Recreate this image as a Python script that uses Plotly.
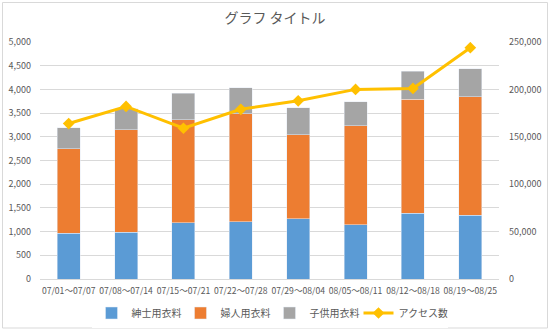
import plotly.graph_objects as go

# Weekly sales (stacked) and access count
weeks = ["07/01～07/07", "07/08～07/14", "07/15～07/21", "07/22～07/28",
         "07/29～08/04", "08/05～08/11", "08/12～08/18", "08/19～08/25"]
mens = [970, 990, 1190, 1210, 1270, 1140, 1390, 1340]
womens = [1780, 2160, 2170, 2280, 1770, 2090, 2400, 2510]
kids = [440, 440, 560, 540, 570, 510, 590, 590]
access = [164000, 182000, 159000, 179000, 188000, 200000, 201000, 244000]

W, H = 550, 331
ML, MR, MT, MB = 40, 51, 42, 52
PW, PH = W - ML - MR, H - MT - MB

FONT = "Noto Sans CJK JP, Open Sans, sans-serif"
TXT = "#595959"
GRID = "#D9D9D9"


def px_x(x):
    return (x - ML) / PW


def px_y(y):
    return (H - MB - y) / PH


fig = go.Figure()
fig.add_trace(go.Bar(x=weeks, y=mens, name="紳士用衣料", marker_color="#5B9BD5"))
fig.add_trace(go.Bar(x=weeks, y=womens, name="婦人用衣料", marker_color="#ED7D31"))
fig.add_trace(go.Bar(x=weeks, y=kids, name="子供用衣料", marker_color="#A5A5A5"))
fig.add_trace(go.Scatter(
    x=weeks, y=access, name="アクセス数", yaxis="y2", mode="lines+markers",
    line=dict(color="#FFC000", width=3),
    marker=dict(symbol="diamond", size=9, color="#FFC000"),
))

fig.update_layout(
    width=W, height=H,
    margin=dict(l=ML, r=MR, t=MT, b=MB, autoexpand=False),
    paper_bgcolor="white", plot_bgcolor="white",
    barmode="stack", bargap=0.6,
    font=dict(family=FONT, size=9, color=TXT),
    title=dict(text="グラフ タイトル", x=0.5, xanchor="center",
               y=1 - 18 / H, yanchor="middle",
               font=dict(family=FONT, size=14, color=TXT)),
    xaxis=dict(showgrid=False, showline=True, linecolor=GRID, linewidth=1,
               ticks="", tickangle=0, automargin=False,
               tickfont=dict(size=8.6, color=TXT), ticklabelstandoff=4),
    yaxis=dict(range=[0, 5000], dtick=500, tickformat=",", showgrid=True,
               gridcolor=GRID, gridwidth=1, zeroline=False, showline=False,
               ticks="", tickfont=dict(size=9, color=TXT), ticklabelstandoff=8),
    yaxis2=dict(range=[0, 250000], dtick=50000, tickformat=",", overlaying="y",
                side="right", showgrid=False, zeroline=False, showline=False,
                ticks="", tickfont=dict(size=9, color=TXT), ticklabelstandoff=9),
    legend=dict(orientation="h", x=0.5, xanchor="center",
                y=px_y(313), yanchor="middle",
                font=dict(family=FONT, size=10, color=TXT),
                itemwidth=30, entrywidth=44, entrywidthmode="pixels",
                traceorder="normal"),
    shapes=[dict(type="rect", xref="paper", yref="paper",
                 x0=px_x(2.5), x1=px_x(547.5), y0=px_y(328), y1=px_y(2.5),
                 line=dict(color="#D9D9D9", width=1), layer="below")],
)

fig.write_html("out.html")
